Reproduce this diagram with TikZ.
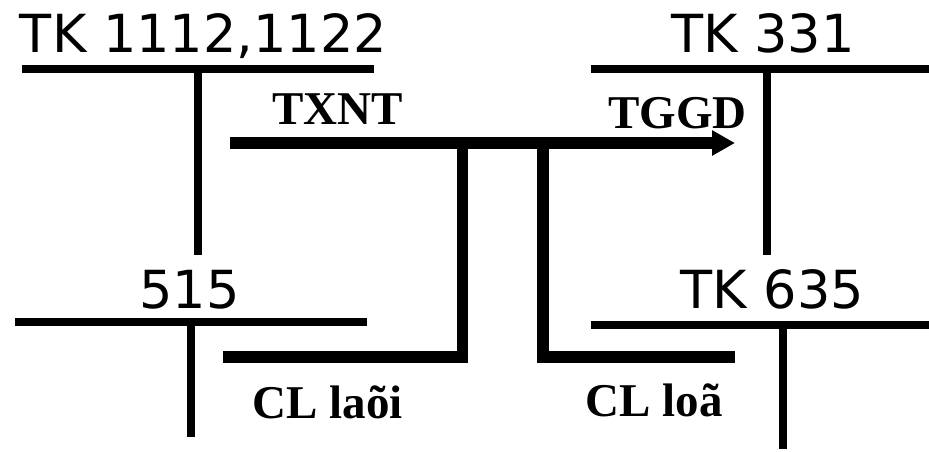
\documentclass[tikz,border=0pt]{standalone}
\usepackage{fontspec}
\newfontfamily\labsans{DejaVu Sans}
\newfontfamily\labserif{Liberation Serif}
\usetikzlibrary{arrows.meta}
\begin{document}
\begin{tikzpicture}[x=1pt,y=-1pt,
  thin/.style={line width=8pt},
  thick/.style={line width=11.5pt, line join=miter},
  tklabel/.style={anchor=base, inner sep=0pt, font=\labsans\fontsize{52.5}{52.5}\selectfont},
  boldlabel/.style={anchor=base, inner sep=0pt, font=\labserif\bfseries\fontsize{47}{47}\selectfont}]
\useasboundingbox (0,0) rectangle (929,451);
% labels
\node[tklabel] (tk1112) at (203.5,52) {TK 1112,1122};
\node[tklabel] (tk331) at (763,52) {TK 331};
\node[tklabel] (n515) at (189.5,308) {515};
\node[tklabel] (tk635) at (772.5,308) {TK 635};
\node[boldlabel] (txnt) at (337.5,124) {TXNT};
\node[boldlabel] (tggd) at (677.5,128) {TGGD};
\node[boldlabel] (cllai) at (327.5,418) {CL laõi};
\node[boldlabel] (clloa) at (654,416) {CL loã};
% T-accounts
\coordinate (a1) at (22,69); \coordinate (a2) at (374,69);
\coordinate (a3) at (198,69); \coordinate (a4) at (198,255);
\draw[thin] (a1) -- (a2); \draw[thin] (a3) -- (a4);
\coordinate (b1) at (591,69); \coordinate (b2) at (929,69);
\coordinate (b3) at (767,69); \coordinate (b4) at (767,255);
\draw[thin] (b1) -- (b2); \draw[thin] (b3) -- (b4);
\coordinate (c1) at (15,322); \coordinate (c2) at (367,322);
\coordinate (c3) at (191,322); \coordinate (c4) at (191,437);
\draw[thin] (c1) -- (c2); \draw[thin] (c3) -- (c4);
\coordinate (d1) at (591,325); \coordinate (d2) at (929,325);
\coordinate (d3) at (783,325); \coordinate (d4) at (783,449);
\draw[thin] (d1) -- (d2); \draw[thin] (d3) -- (d4);
% flows
\coordinate (s) at (230,143); \coordinate (e) at (735,143);
\draw[line width=12pt, -{Triangle[length=23pt,width=24pt]}] (s) -- (e);
\coordinate (l1) at (462.5,143); \coordinate (l2) at (462.5,357); \coordinate (l3) at (223,357);
\draw[thick] (l1) -- (l2) -- (l3);
\coordinate (r1) at (543,143); \coordinate (r2) at (543,357); \coordinate (r3) at (735,357);
\draw[thick] (r1) -- (r2) -- (r3);
\end{tikzpicture}
\end{document}
